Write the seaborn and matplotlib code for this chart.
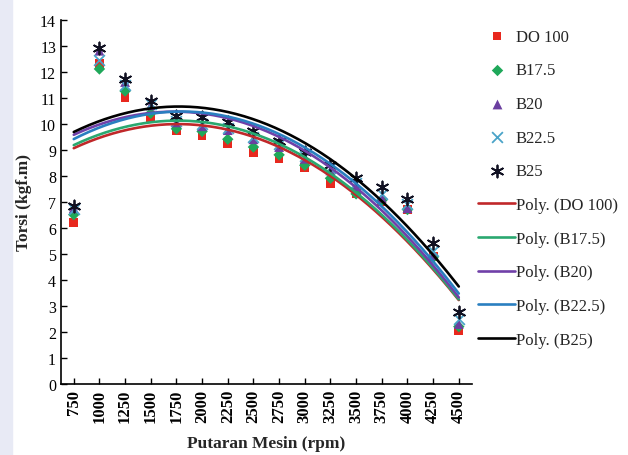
import numpy as np
import pandas as pd
import matplotlib
matplotlib.use("Agg")
import matplotlib.pyplot as plt
import seaborn as sns
from matplotlib.patches import Rectangle

# data
rpm = [750, 1000, 1250, 1500, 1750, 2000, 2250, 2500, 2750, 3000, 3250, 3500, 3750, 4000, 4250, 4500]
do100 = [6.2, 12.3, 11.0, 10.25, 9.75, 9.55, 9.25, 8.9, 8.65, 8.3, 7.7, 7.3, 7.0, 6.7, 4.9, 2.05]
b175 = [6.5, 12.1, 11.25, 10.4, 9.8, 9.7, 9.4, 9.1, 8.8, 8.4, 7.9, 7.3, 7.05, 6.7, 4.85, 2.2]
b20 = [6.75, 12.8, 11.6, 10.7, 10.05, 9.9, 9.75, 9.4, 9.1, 8.65, 8.2, 7.6, 7.15, 6.75, 4.95, 2.3]
b225 = [6.7, 12.45, 11.5, 10.75, 10.1, 10.0, 9.85, 9.5, 9.2, 8.75, 8.3, 7.7, 7.3, 6.9, 5.1, 2.5]
b25 = [6.85, 12.9, 11.7, 10.85, 10.3, 10.25, 10.05, 9.7, 9.35, 8.9, 8.4, 7.9, 7.55, 7.1, 5.4, 2.75]

names = ["DO 100", "B17.5", "B20", "B22.5", "B25"]
series = [do100, b175, b20, b225, b25]
marker_colors = ["#e8281e", "#1fa85a", "#6b3fa0", "#4aa3c8", "#111122"]
line_colors = ["#c0282a", "#2aa870", "#7040a8", "#2a7fc0", "#000000"]
markers = ["s", "D", "^", "x", (6, 2, 0)]
sizes = [40, 34, 50, 60, 75]

sns.set_theme(style="white")
plt.rcParams["font.family"] = ["Liberation Serif", "DejaVu Serif"]

fig = plt.figure(figsize=(6.28, 4.56), dpi=100)
ax = fig.add_axes([0.097, 0.156, 0.654, 0.799])
fig.add_artist(Rectangle((0, 0), 0.019, 1, transform=fig.transFigure,
                         color="#e8eaf5", zorder=0))

df = pd.DataFrame({"rpm": rpm})
for name, vals in zip(names, series):
    df[name] = vals

handles = []
for name, col, mk, sz in zip(names, marker_colors, markers, sizes):
    lw = 1.3 if mk in ("x", (6, 2, 0)) else 0
    sns.scatterplot(x="rpm", y=name, data=df, ax=ax, marker=mk, color=col,
                    s=sz, edgecolor=col if lw else "none", linewidth=lw,
                    zorder=3)
    h = ax.scatter([], [], marker=mk, color=col, s=sz, linewidths=lw)
    handles.append(h)

xs = np.linspace(rpm[0], rpm[-1], 200)
for name, col in zip(names, line_colors):
    coef = np.polyfit(df["rpm"], df[name], 2)
    fit = pd.DataFrame({"x": xs, "y": np.polyval(coef, xs)})
    sns.lineplot(x="x", y="y", data=fit, ax=ax, color=col, linewidth=1.9, zorder=4)
    h, = ax.plot([], [], color=col, linewidth=1.9)
    handles.append(h)

labels = names + ["Poly. (%s)" % n for n in names]

ax.set_xlim(rpm[0] - 125, rpm[-1] + 125)
ax.set_ylim(0, 14)
ax.set_xticks(rpm)
ax.set_xticklabels([str(r) for r in rpm], rotation=90, fontweight="bold", fontsize=12)
ax.set_yticks(range(0, 15))
ax.tick_params(axis="y", labelsize=11.5)
ax.tick_params(direction="in", length=4, width=1, colors="black", left=True, bottom=True)
ax.set_xlabel("Putaran Mesin (rpm)", fontweight="bold", fontsize=12.5, labelpad=9)
ax.set_ylabel("Torsi (kgf.m)", fontweight="bold", fontsize=12.5, labelpad=6)
sns.despine(ax=ax)
for s in ["left", "bottom"]:
    ax.spines[s].set_color("black")
    ax.spines[s].set_linewidth(1.2)

ax.legend(handles, labels, loc="upper left", bbox_to_anchor=(1.0, 0.993),
          frameon=False, fontsize=12, labelspacing=1.06, handlelength=2.2,
          handletextpad=0.05, borderaxespad=0.0)

fig.savefig("out.png", dpi=100)
